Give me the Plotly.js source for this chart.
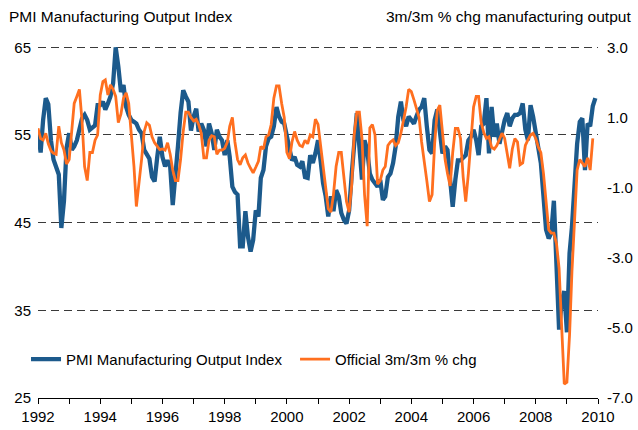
<!DOCTYPE html>
<html>
<head>
<meta charset="utf-8">
<script src="https://cdn.plot.ly/plotly-3.0.1.min.js"></script>
<style>
  html, body { margin: 0; padding: 0; background: #ffffff; }
  #chart { width: 638px; height: 430px; }
</style>
</head>
<body>
<div id="chart"></div>
<script>
// ---- Data (monthly, Jan 1992 onward) ----
const startYear = 1992;

const pmiOutput = [
  55.3, 53.0, 56.7, 59.2, 58.5, 54.4, 52.2, 51.2, 50.5, 44.4, 47.5, 53.5, // 1992
  55.2, 53.3, 53.7, 54.4, 55.6, 56.9, 57.3, 56.7, 55.6, 55.8, 56.1, 58.4, // 1993
  58.4, 58.8, 57.9, 58.6, 59.4, 60.9, 65.0, 62.8, 59.9, 60.7, 58.2, 57.3, // 1994
  56.7, 56.5, 56.3, 55.6, 55.2, 53.3, 52.9, 52.3, 50.2, 49.7, 52.5, 54.8, // 1995
  52.5, 51.4, 52.1, 51.4, 47.0, 49.9, 53.7, 57.5, 60.1, 59.4, 58.8, 55.5, // 1996
  57.1, 58.0, 55.4, 56.3, 55.6, 53.7, 56.3, 55.2, 53.3, 55.6, 54.8, 54.4, // 1997
  52.7, 54.4, 52.5, 49.1, 48.5, 48.2, 42.3, 42.3, 46.3, 43.4, 41.7, 43.0, // 1998
  46.4, 45.7, 50.1, 51.0, 53.7, 54.6, 54.8, 56.0, 58.2, 57.1, 56.5, 56.3, // 1999
  55.0, 53.5, 52.1, 52.5, 51.6, 51.4, 52.0, 50.2, 50.1, 52.7, 51.8, 52.9, // 2000
  54.4, 52.0, 49.5, 48.0, 45.7, 48.0, 46.3, 48.7, 48.0, 46.1, 45.3, 44.9, // 2001
  46.4, 50.6, 54.4, 57.5, 53.7, 49.9, 54.4, 53.3, 50.6, 49.9, 49.5, 49.1, // 2002
  49.9, 47.6, 48.0, 50.2, 50.6, 51.8, 53.7, 57.1, 58.8, 56.7, 56.0, 57.1, // 2003
  56.7, 56.3, 57.1, 57.9, 58.2, 59.2, 56.0, 53.3, 52.9, 56.7, 57.9, 55.6, // 2004
  52.9, 53.7, 53.3, 49.9, 46.8, 49.9, 52.1, 52.1, 52.5, 52.7, 54.4, 54.8, // 2005
  55.6, 54.4, 52.7, 56.0, 56.3, 59.2, 52.9, 58.2, 54.8, 56.3, 54.0, 55.6, // 2006
  56.7, 57.5, 56.0, 56.9, 57.3, 57.3, 57.5, 58.6, 55.6, 54.4, 58.4, 57.1, // 2007
  55.2, 53.7, 51.8, 48.0, 44.2, 43.2, 43.8, 47.5, 40.5, 32.8, 36.0, 37.2, // 2008
  32.5, 41.5, 44.5, 49.0, 54.0, 56.5, 56.9, 51.0, 56.3, 56.0, 58.3, 59.2  // 2009
];

const officialChg = [
  0.69, 0.40, 0.36, 0.55, 0.25, 0.05, -0.02, -0.05, 0.75, 0.28, 0.07, -0.33, // 1992
  -0.20, 0.60, 1.40, 1.60, 1.80, 0.90, -0.40, -0.80, 0.00, 0.00, 0.35, 0.50, // 1993
  1.64, 2.02, 2.07, 1.64, 1.93, 1.80, 1.60, 0.85, 1.10, 1.55, 1.70, 1.40,    // 1994
  0.50, -0.40, -1.54, -0.90, -0.20, 0.60, 0.85, 0.78, 0.45, 0.28, 0.18, 0.08, // 1995
  0.10, 0.07, 0.28, -0.05, -0.50, -0.80, -0.80, -0.20, 0.60, 1.15, 1.15, 1.00, // 1996
  0.90, 0.95, 0.80, 0.55, -0.15, -0.15, 0.35, 0.48, 0.45, -0.05, 0.07, 0.07, // 1997
  0.12, 0.30, 0.75, 1.00, 0.30, -0.20, -0.35, -0.15, -0.07, -0.30, -0.45, -0.58, // 1998
  -0.42, -0.25, 0.17, 0.10, 0.45, 0.50, 0.80, 1.55, 1.90, 1.90, 1.40, 1.00,  // 1999
  0.00, -0.18, 0.30, 0.60, 0.35, 0.20, 0.17, 0.35, 0.25, 0.50, 0.45, 0.95,   // 2000
  0.80, 0.20, -0.50, -1.10, -1.60, -1.70, -1.20, -0.40, 0.00, 0.00, -0.80, -1.40, // 2001
  -1.70, -0.90, 0.50, 1.15, 1.15, 0.40, -1.20, -2.10, 0.70, 0.80, 0.50, -0.90, // 2002
  -0.80, -0.50, -0.40, 0.20, 0.30, 0.36, 0.20, 0.28, 0.55, 0.93, 1.30, 1.80, // 2003
  1.74, 1.50, 1.25, 1.00, 0.30, -0.35, -0.80, -1.40, -1.20, 0.25, 1.20, 1.35, // 2004
  0.50, -0.20, -0.60, -0.95, 0.00, 0.69, 0.69, 0.40, -0.70, -1.40, -0.60, 0.45, // 2005
  1.30, 1.60, 1.60, 0.85, 0.57, 0.40, 0.45, 0.15, 0.10, 0.20, 0.36, 0.55,   // 2006
  0.40, 0.00, -0.45, 0.10, 0.40, 0.30, -0.35, -0.30, 0.20, 0.36, 0.50, 0.55, // 2007
  0.40, 0.15, 0.00, -0.60, -1.40, -2.20, -2.30, -2.30, -2.60, -3.30, -5.00, -6.60, // 2008
  -6.55, -5.20, -3.40, -1.80, -0.50, -0.20, -0.30, -0.40, -0.15, -0.50, 0.40 // 2009
];

const yearTicks = [1992,1993,1994,1995,1996,1997,1998,1999,2000,2001,2002,2003,2004,2005,2006,2007,2008,2009,2010];
const leftTicks = [25, 35, 45, 55, 65];
const rightTicks = [-7, -5, -3, -1, 1, 3];
const rightTickText = ["-7.0", "-5.0", "-3.0", "-1.0", "1.0", "3.0"];

const seriesNames = ["PMI Manufacturing Output Index", "Official 3m/3m % chg"];
const leftTitle = "PMI Manufacturing Output Index";
const rightTitle = "3m/3m % chg manufacturing output";

// ---- build monthly dates ----
function monthDate(i) {
  const y = startYear + Math.floor(i / 12);
  const m = (i % 12) + 1;
  return y + "-" + (m < 10 ? "0" + m : m) + "-01";
}
const pmiDates = pmiOutput.map((_, i) => monthDate(i));
const chgDates = officialChg.map((_, i) => monthDate(i));

const FONT = "Liberation Sans, Arial, sans-serif";

const traces = [
  {
    x: pmiDates, y: pmiOutput, name: seriesNames[0],
    type: "scatter", mode: "lines", yaxis: "y", legend: "legend",
    line: { color: "#1C5A8C", width: 4.3 }
  },
  {
    x: chgDates, y: officialChg, name: seriesNames[1],
    type: "scatter", mode: "lines", yaxis: "y2", legend: "legend2",
    line: { color: "#FF6F1F", width: 2.8 }
  }
];

const legendFont = { family: FONT, size: 15, color: "#000" };

const layout = {
  width: 638, height: 430,
  margin: { l: 38, r: 40, t: 46, b: 32, pad: 0 },
  paper_bgcolor: "#ffffff", plot_bgcolor: "#ffffff",
  font: { family: FONT, size: 15, color: "#000000" },
  showlegend: true,
  legend: {
    orientation: "h", x: -0.0214, xanchor: "left", y: 0.11, yanchor: "middle",
    bgcolor: "rgba(0,0,0,0)", font: legendFont
  },
  legend2: {
    orientation: "h", x: 0.459, xanchor: "left", y: 0.11, yanchor: "middle",
    bgcolor: "rgba(0,0,0,0)", font: legendFont
  },
  xaxis: {
    type: "date",
    range: ["1992-01-01", "2010-01-01"],
    tickvals: yearTicks.map(y => y + "-01-01"),
    ticktext: yearTicks.map(y => (y % 2 === 0 ? String(y) : "")),
    ticks: "outside", ticklen: 5, tickcolor: "#000", tickwidth: 1,
    showline: true, linecolor: "#000", linewidth: 1,
    showgrid: false, zeroline: false,
    tickfont: { family: FONT, size: 15, color: "#000" }
  },
  yaxis: {
    range: [25, 65.15], tickvals: leftTicks,
    ticks: "", showline: false, zeroline: false,
    showgrid: true, gridcolor: "#3a3a3a", gridwidth: 1, griddash: "8px,5px",
    ticklabelstandoff: 6,
    tickfont: { family: FONT, size: 15, color: "#000" }
  },
  yaxis2: {
    range: [-7, 3.0375], tickvals: rightTicks, ticktext: rightTickText,
    overlaying: "y", side: "right",
    ticks: "", showline: false, zeroline: false, showgrid: false,
    ticklabelstandoff: 8,
    tickfont: { family: FONT, size: 15, color: "#000" }
  },
  annotations: [
    { text: leftTitle, xref: "paper", yref: "paper", x: -0.055, y: 1.084,
      xanchor: "left", yanchor: "middle", showarrow: false,
      font: { family: FONT, size: 15.5, color: "#000" } },
    { text: rightTitle, xref: "paper", yref: "paper", x: 1.062, y: 1.084,
      xanchor: "right", yanchor: "middle", showarrow: false,
      font: { family: FONT, size: 15.5, color: "#000" } }
  ]
};

Plotly.newPlot("chart", traces, layout, { staticPlot: true, displayModeBar: false });
</script>
</body>
</html>
